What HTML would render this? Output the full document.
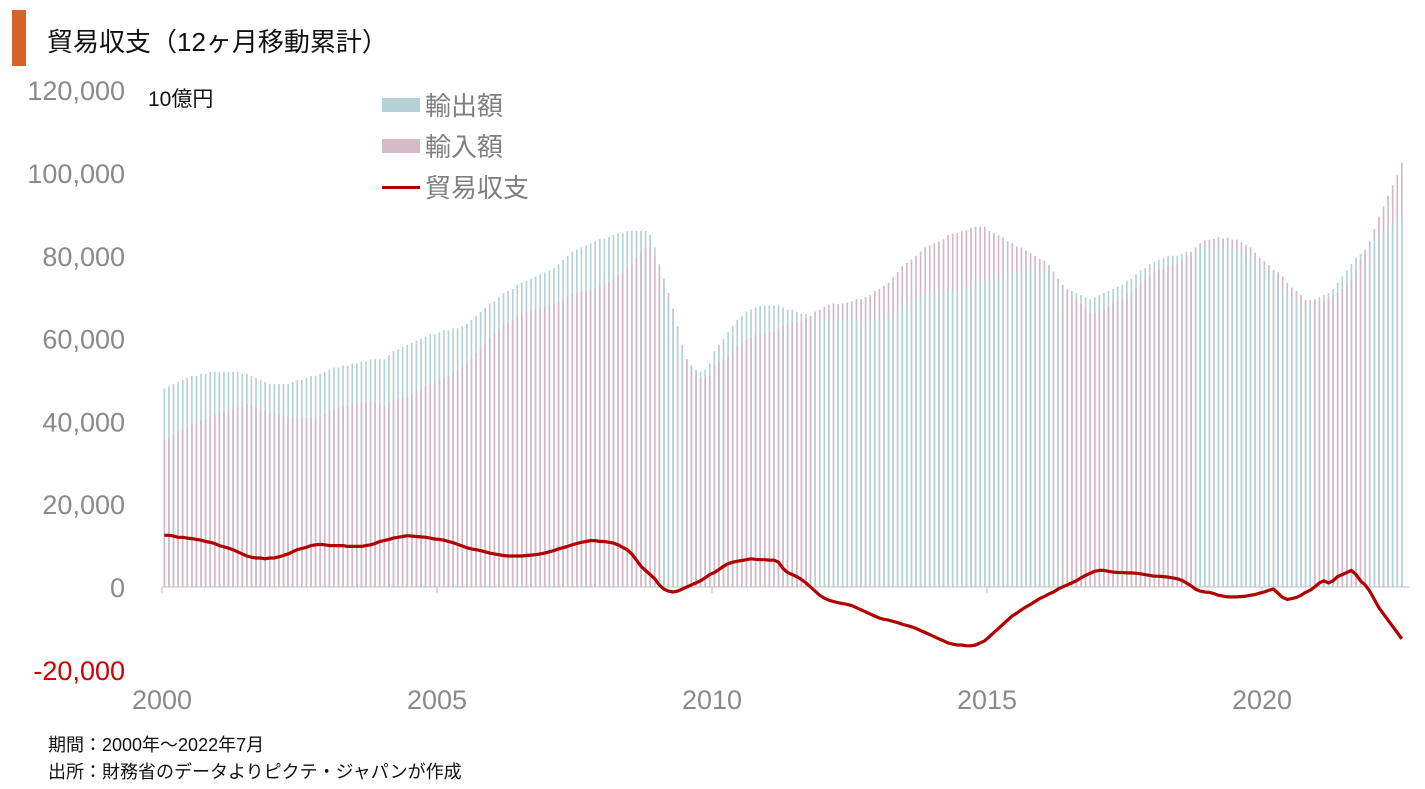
<!DOCTYPE html>
<html><head><meta charset="utf-8">
<style>
body{margin:0;background:#fff;width:1425px;height:789px;overflow:hidden;font-family:"Liberation Sans","Noto Sans CJK JP",sans-serif;}
svg{display:block}
</style></head>
<body>
<svg id="chart" width="1425" height="789">
<rect x="12" y="10" width="14" height="56" fill="#d9622b"/>
<text x="47" y="51" font-size="26" fill="#111">貿易収支（12ヶ月移動累計）</text>
<text x="148" y="106" font-size="21" fill="#111">10億円</text>
<g id="yaxis"></g>
<g id="xaxis"></g>
<g id="bars"></g>
<g id="line"></g>
<g>
 <g><rect x="382" y="98" width="38" height="14" fill="#b5d3d5"/><text x="425" y="115" font-size="26" fill="#7f7f7f">輸出額</text></g>
 <g><rect x="382" y="139" width="38" height="14" fill="#d4b9c6"/><text x="425" y="156" font-size="26" fill="#7f7f7f">輸入額</text></g>
 <g><rect x="382" y="186" width="38" height="3" fill="#b00000"/><text x="425" y="197" font-size="26" fill="#7f7f7f">貿易収支</text></g>
</g>
<text x="48" y="751" font-size="18" fill="#111">期間：2000年～2022年7月</text>
<text x="48" y="778" font-size="18" fill="#111">出所：財務省のデータよりピクテ・ジャパンが作成</text>
</svg>
<script>
const yTicks=[120000,100000,80000,60000,40000,20000,0,-20000];
const yTickLabels=["120,000","100,000","80,000","60,000","40,000","20,000","0","-20,000"];
const xYears=[2000,2005,2010,2015,2020];
const startYear=2000;
// exports, thousands of 10億円, monthly from 2000-01
const exportsK=[
48,48.5,49,49.5,50,50.5,51,51,51.5,51.5,52,52,
52,52,52,52,52,51.5,51.5,51,50.5,50,49.5,49,
49,49,49,49,49.5,50,50,50.5,51,51,51.5,52,
52.5,53,53,53.5,53.5,54,54,54.5,54.5,55,55,55,
55,56,57,57.5,58,58.5,59,59.5,60,60.5,61,61,
61.5,62,62,62.5,62.5,63,63.5,64.5,65.5,66.5,67.5,68.5,
69,70,71,71.5,72,73,73.5,74,74.5,75,75.5,76,
76.5,77,78,79,80,81,81.5,82,82.5,83,83.5,84,
84,84.5,85,85.5,85.5,86,86,86,86,86,85,82,
78,74,70,66,62,58,55,53.5,52.5,52,52.5,54,
57,58.5,60,61.5,63,64.5,65.5,66.5,67,67.5,68,68,
68,68,68,67.5,67,67,66.5,66,66,65.5,65.5,65,
65,65,65,64.5,64.5,64.5,64.5,64.5,64,64,64,64.5,
64.5,65,65.5,66.5,67.5,68.5,69,69.5,70,70.5,71,71,
71,71,71,71.5,71.5,71.5,72,72,72.5,73,73.5,74,
74,74.5,75,75.5,75.5,76,76,76.5,76.5,76.5,76.5,76.5,
76.5,76,75,74,73,72,71.5,71,70.5,70,69.5,70,
70.5,71,71.5,72,72.5,73,74,74.5,75.5,76.5,77,78,
78.5,79,79.5,80,80,80,80.5,81,81,81.5,82,82.5,
82.5,82.5,82.5,82,82,81.5,81.5,81,80.5,80,79,78,
77.5,77,76,74.5,72.5,70.5,69.5,69,68.5,68,68.5,69.5,
70,70.5,71,72,73.5,75,76.5,78,79.5,80.5,81.5,82.5,
83.5,84.5,85.5,86.5,87.5,88.5,90];
const balanceK=[
12.5,12.5,12.3,12,12,11.8,11.7,11.5,11.3,11,10.8,10.5,
10,9.7,9.4,9,8.5,8,7.5,7.2,7,7,6.8,7,
7,7.3,7.6,8,8.5,9,9.3,9.6,10,10.2,10.3,10.2,
10,10,10,10,9.8,9.8,9.8,9.8,10,10.2,10.5,11,
11.2,11.5,11.8,12,12.2,12.4,12.3,12.2,12.1,12,11.8,11.6,
11.5,11.3,11,10.7,10.3,9.9,9.5,9.2,9,8.8,8.5,8.2,
8,7.8,7.6,7.5,7.5,7.5,7.5,7.6,7.7,7.8,8,8.2,
8.5,8.8,9.2,9.5,9.8,10.2,10.5,10.8,11,11.2,11.2,11,
11,10.8,10.6,10.2,9.6,9,8,6.5,5,4,3,2,
0.5,-0.5,-1,-1.2,-1,-0.5,0,0.5,1,1.5,2.2,3,
3.5,4.2,5,5.6,6,6.2,6.4,6.6,6.8,6.7,6.6,6.6,
6.5,6.5,6,4.5,3.5,3,2.5,1.8,1,0,-1,-2,
-2.7,-3.2,-3.5,-3.8,-4,-4.2,-4.5,-5,-5.5,-6,-6.5,-7,
-7.5,-7.8,-8,-8.3,-8.6,-9,-9.3,-9.6,-10,-10.5,-11,-11.5,
-12,-12.5,-13,-13.5,-13.8,-14,-14,-14.2,-14.2,-14,-13.5,-13,
-12,-11,-10,-9,-8,-7,-6.3,-5.5,-4.8,-4.2,-3.5,-2.8,
-2.3,-1.7,-1.2,-0.5,0,0.5,1,1.5,2.2,2.8,3.3,3.8,
4,4,3.8,3.6,3.5,3.5,3.4,3.4,3.3,3.2,3,2.8,
2.6,2.6,2.5,2.4,2.2,2,1.6,1,0.3,-0.5,-1,-1.2,
-1.3,-1.6,-2,-2.2,-2.4,-2.4,-2.4,-2.3,-2.2,-2,-1.8,-1.5,
-1.2,-0.8,-0.5,-1.5,-2.5,-3,-2.8,-2.5,-2,-1.3,-0.8,0,
1,1.5,1,1.5,2.5,3,3.5,4,3,1.5,0.5,-1,
-3,-5,-6.5,-8,-9.5,-11,-12.5];

const NS="http://www.w3.org/2000/svg";
const y0=587, pxPer=82.8/20000;
function yS(v){return y0-v*pxPer;}
const x0=162, pxMonth=55/12;
function xS(i){return x0+i*pxMonth+2.3;}
function xYear(yr){return x0+(yr-startYear)*55;}
function mk(tag,attrs,parent){const e=document.createElementNS(NS,tag);for(const k in attrs)e.setAttribute(k,attrs[k]);parent.appendChild(e);return e;}

const ya=document.getElementById('yaxis');
yTicks.forEach((t,i)=>{
  const e=mk('text',{x:125,y:yS(t)+10,'text-anchor':'end','font-size':27,fill:t<0?'#d00000':'#8a8a8a'},ya);
  
  
  e.textContent=yTickLabels[i];
});
const xa=document.getElementById('xaxis');
xYears.forEach(yr=>{
  const e=mk('text',{x:xYear(yr),y:709,'text-anchor':'middle','font-size':27,fill:'#8a8a8a'},xa);
  
  
  e.textContent=yr;
  const tk=mk('line',{x1:xYear(yr),x2:xYear(yr),y1:y0,y2:y0+6,stroke:'#bfbfbf','stroke-width':1},xa);
  
  
});

const bg=document.getElementById('bars');
exportsK.forEach((ex,i)=>{
  const exV=ex*1000, imV=(ex-balanceK[i])*1000;
  const x=xS(i)-0.8;
  const order=exV>=imV?[[exV,'#b5d3d5','export-bar'],[imV,'#d4b9c6','import-bar']]:[[imV,'#d4b9c6','import-bar'],[exV,'#b5d3d5','export-bar']];
  order.forEach(o=>{
    const b=mk('rect',{x:x,y:yS(o[0]),width:1.7,height:y0-yS(o[0]),fill:o[1]},bg);
    
    
  });
});
const zl=mk('line',{x1:x0,x2:1410,y1:y0,y2:y0,stroke:'#bfbfbf','stroke-width':1},bg);



const lg=document.getElementById('line');
const pts=balanceK.map((b,i)=>xS(i).toFixed(1)+','+yS(b*1000).toFixed(1)).join(' ');
const pl=mk('polyline',{points:pts,fill:'none',stroke:'#b00000','stroke-width':3.2,'stroke-linejoin':'round'},lg);


</script>
</body></html>
